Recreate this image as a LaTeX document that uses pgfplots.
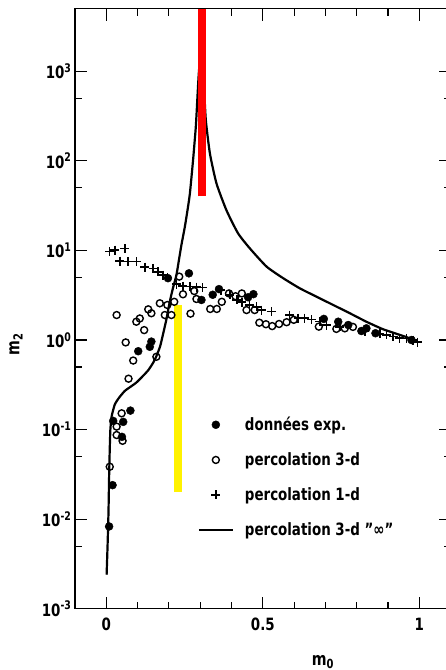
\documentclass[border=0pt]{standalone}
\usepackage{fontspec}
\setmainfont{DejaVu Sans Condensed}[FakeStretch=0.88]
\usepackage{pgfplots}
\pgfplotsset{compat=1.18}

% measured moments: experiment and percolation models
\pgfplotstableread{
x y
0.009 0.0083
0.020 0.024
0.022 0.125
0.054 0.122
0.050 0.083
0.077 0.163
0.102 0.75
0.139 0.84
0.144 0.96
0.197 4.9
0.264 5.55
0.304 2.8
0.340 3.2
0.360 3.7
0.453 3.0
0.470 3.25
0.695 1.72
0.741 1.6
0.773 1.47
0.815 1.26
0.831 1.35
0.860 1.19
0.975 1.0
}\expdata

\pgfplotstableread{
x y
0.011 0.0385
0.033 0.108
0.033 0.087
0.049 0.152
0.052 0.075
0.062 0.94
0.086 0.59
0.071 0.37
0.160 0.65
0.033 1.9
0.096 1.6
0.107 1.74
0.121 1.29
0.134 2.2
0.144 1.99
0.171 2.57
0.195 2.46
0.187 1.9
0.217 2.67
0.208 1.9
0.233 5.1
0.245 3.24
0.269 1.97
0.281 3.52
0.288 2.87
0.332 2.22
0.353 2.22
0.369 2.67
0.392 3.31
0.413 3.08
0.433 3.31
0.448 2.16
0.474 2.16
0.489 1.56
0.510 1.50
0.530 1.43
0.552 1.51
0.576 1.58
0.599 1.68
0.679 1.41
0.735 1.33
0.762 1.35
0.788 1.40
}\percthree

\pgfplotstableread{
x y
0.011 9.7
0.027 10.1
0.059 10.5
0.043 7.6
0.070 7.5
0.096 7.5
0.123 6.5
0.150 6.3
0.165 5.75
0.181 5.3
0.195 5.0
0.224 4.2
0.245 4.0
0.267 3.95
0.288 3.9
0.308 3.85
0.366 3.6
0.395 3.2
0.417 2.8
0.433 2.65
0.458 2.46
0.480 2.35
0.496 2.16
0.528 2.07
0.586 1.9
0.613 1.75
0.634 1.75
0.656 1.69
0.682 1.6
0.704 1.47
0.746 1.40
0.826 1.26
0.874 1.17
0.896 1.14
0.916 1.09
0.937 1.05
0.959 1.04
0.980 1.0
0.995 0.95
}\percone

\pgfplotstableread{
x y
0.001 0.0024
0.004 0.005
0.007 0.012
0.009 0.03
0.011 0.06
0.013 0.10
0.017 0.14
0.027 0.19
0.040 0.225
0.059 0.27
0.080 0.305
0.096 0.335
0.115 0.39
0.134 0.46
0.150 0.56
0.160 0.66
0.172 0.85
0.181 1.15
0.192 1.7
0.203 2.7
0.213 3.8
0.224 5.3
0.232 7.8
0.240 11.5
0.251 18.4
0.260 29
0.267 43
0.277 100
0.286 240
0.291 500
0.296 1000
0.305 2000
0.312 700
0.318 285
0.331 121
0.352 56
0.384 28
0.421 15.5
0.459 10.5
0.512 6.6
0.565 4.9
0.618 3.78
0.672 3.04
0.725 2.46
0.778 1.99
0.831 1.6
0.884 1.32
0.938 1.14
0.986 1.0
}\percinf

\begin{document}
\begin{tikzpicture}
\begin{axis}[
  at={(0bp,0bp)}, anchor=south west,
  scale only axis, width=375.6bp, height=600.2bp,
  xmin=-0.1, xmax=1.1,
  ymode=log, ymin=1e-3, ymax=5000,
  axis line style={line width=1.2bp},
  tick align=inside,
  tick style={line width=1.2bp, black},
  major tick length=12bp, minor tick length=7bp,
  xtick={0,0.5,1}, xticklabels={0,0.5,1},
  minor xtick={0.1,0.2,0.3,0.4,0.6,0.7,0.8,0.9},
  ytick={1e-3,1e-2,1e-1,1,10,100,1000},
  yticklabels={10\textsuperscript{-3},10\textsuperscript{-2},10\textsuperscript{-1},10\textsuperscript{0},10\textsuperscript{1},10\textsuperscript{2},10\textsuperscript{3}},
  minor ytick={5e-3,5e-2,0.5,5,50,500},
  ticklabel style={font=\bfseries\fontsize{17}{17}\selectfont},
  xticklabel style={yshift=-6bp},
  xlabel={m\textsubscript{0}}, ylabel={m\textsubscript{2}},
  label style={font=\bfseries\fontsize{18}{18}\selectfont},
  xlabel style={at={(rel axis cs:0.66,0)}, anchor=center, yshift=-53bp},
  ylabel style={at={(rel axis cs:0,0.441)}, anchor=center, yshift=59bp},
  legend image code/.code={\draw[mark repeat=2,mark phase=2,#1] plot coordinates {(0bp,0bp) (17bp,0bp) (34bp,0bp)};},
  legend style={at={(axis cs:0.282,0.153)}, anchor=north west, draw=none, fill=none,
    font=\bfseries\fontsize{17}{17}\selectfont, row sep=16.5bp,
    /tikz/every odd column/.append style={column sep=9bp}},
  legend cell align=left,
]
% "infinite" 3-d percolation curve, drawn first so open marks sit above it
\addplot[black, line width=2.2bp, smooth, tension=0.35, forget plot] table {\percinf};
\addplot[only marks, mark=*, mark size=4bp, black] table {\expdata};
\addlegendentry{données exp.}
\addplot[only marks, mark=o, mark size=3.5bp, mark options={fill=white, line width=1.4bp}, black] table {\percthree};
\addlegendentry{percolation 3-d}
\addplot[only marks, mark=+, mark size=4.5bp, mark options={line width=1.5bp}, black] table {\percone};
\addlegendentry{percolation 1-d}
\addlegendimage{black, line width=2.2bp}
\addlegendentry{percolation 3-d "∞"}
% highlighted bands
\addplot[red, line width=8bp, forget plot] coordinates {(0.305,40) (0.305,5000)};
\addplot[yellow, line width=8bp, forget plot] coordinates {(0.228,0.02) (0.228,2.46)};
\end{axis}
\pgfresetboundingbox
\useasboundingbox (-75bp,-61.2bp) rectangle (371bp,608.8bp);
\end{tikzpicture}
\end{document}
